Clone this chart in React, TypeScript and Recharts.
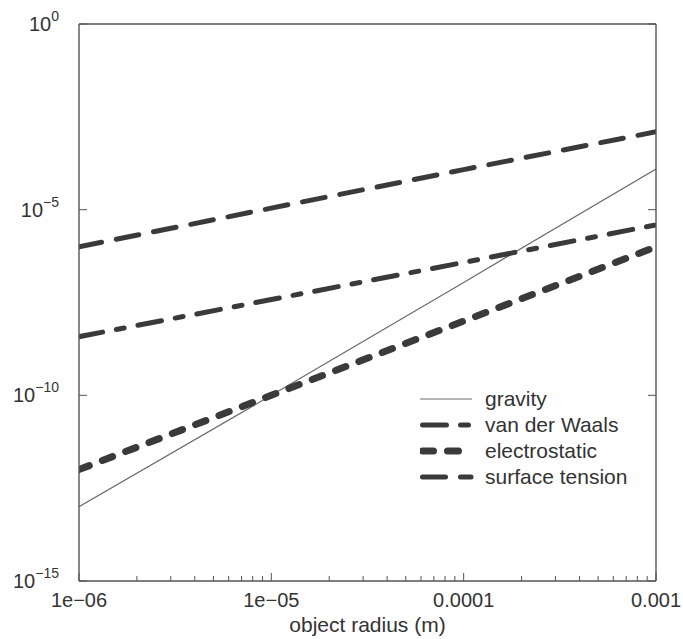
import { LineChart, Line, XAxis, YAxis, Legend } from "recharts";

const radius = [1e-6, 1e-5, 1e-4, 1e-3];
const gravity = [1e-13, 1e-10, 1.1e-7, 1.25e-4];
const vanDerWaals = [3.8e-9, 3.8e-8, 3.8e-7, 3.9e-6];
const electrostatic = [1e-12, 1e-10, 1e-8, 1e-6];
const surfaceTension = [1e-6, 1.1e-5, 1.2e-4, 1.25e-3];

const xMajor = [1e-6, 1e-5, 1e-4, 1e-3];
const xMajorLabels = ["1e\u221206", "1e\u221205", "0.0001", "0.001"];
const xMinor = [1e-6, 1e-5, 1e-4].flatMap((d) => [2, 3, 4, 5, 6, 7, 8, 9].map((m) => m * d));
const yMajor = [1, 1e-5, 1e-10, 1e-15];
const yExponents = ["0", "\u22125", "\u221210", "\u221215"];

const SERIES = [
  { key: "gravity", name: "gravity", color: "#6a6a6a", width: 1.2, dash: undefined },
  { key: "vdw", name: "van der Waals", color: "#3a3a3a", width: 5, dash: "24 14 8 14" },
  { key: "elec", name: "electrostatic", color: "#3a3a3a", width: 7, dash: "11 14" },
  { key: "surf", name: "surface tension", color: "#3a3a3a", width: 5, dash: "23 15" },
];

const data = radius.map((r, i) => ({
  r,
  gravity: gravity[i],
  vdw: vanDerWaals[i],
  elec: electrostatic[i],
  surf: surfaceTension[i],
}));

const FONT = "'Liberation Sans', Arial, Helvetica, sans-serif";
const INK = "#333";
const FRAME = "#555";

const majorIndex = (list: number[], v: number) =>
  list.findIndex((m) => Math.abs(m - v) / m < 1e-6);

function BottomTick(props: any) {
  const { x, y, payload } = props;
  const idx = majorIndex(xMajor, payload.value);
  const len = idx >= 0 ? 8 : 5;
  return (
    <g>
      <line x1={x} y1={y} x2={x} y2={y - len} stroke={FRAME} strokeWidth={1} />
      {idx >= 0 && (
        <text x={x} y={y + 26} textAnchor="middle" fontFamily={FONT} fontSize={20} fill={INK}>
          {xMajorLabels[idx]}
        </text>
      )}
    </g>
  );
}

function TopTick(props: any) {
  const { x, y, payload } = props;
  const len = majorIndex(xMajor, payload.value) >= 0 ? 8 : 5;
  return <line x1={x} y1={y} x2={x} y2={y + len} stroke={FRAME} strokeWidth={1} />;
}

function LeftTick(props: any) {
  const { x, y, payload } = props;
  const idx = majorIndex(yMajor, payload.value);
  return (
    <g>
      <line x1={x} y1={y} x2={x + 8} y2={y} stroke={FRAME} strokeWidth={1} />
      <text x={x - 20} y={y + 7} textAnchor="end" fontFamily={FONT} fill={INK}>
        <tspan fontSize={20}>10</tspan>
        <tspan fontSize={14} dy={-10}>{yExponents[idx]}</tspan>
      </text>
    </g>
  );
}

function RightTick(props: any) {
  const { x, y } = props;
  return <line x1={x} y1={y} x2={x - 8} y2={y} stroke={FRAME} strokeWidth={1} />;
}

function LegendBox() {
  return (
    <div style={{ fontFamily: FONT, fontSize: 21, color: INK }}>
      {SERIES.map((s) => (
        <div key={s.key} style={{ display: "flex", alignItems: "center", height: 26 }}>
          <svg width={56} height={26} style={{ display: "block" }}>
            <line
              x1={s.dash ? 2.5 : 0}
              y1={13}
              x2={s.dash ? 51 : 52}
              y2={13}
              stroke={s.color}
              strokeWidth={s.width}
              strokeDasharray={s.dash}
              strokeLinecap={s.dash ? "round" : "butt"}
            />
          </svg>
          <span style={{ marginLeft: 9, lineHeight: "26px" }}>{s.name}</span>
        </div>
      ))}
    </div>
  );
}

export default function App() {
  return (
    <div style={{ position: "absolute", left: 0, top: 0, background: "#fff" }}>
      <LineChart width={683} height={639} data={data} margin={{ top: 0, right: 0, bottom: 0, left: 0 }}>
        <XAxis
          dataKey="r"
          type="number"
          scale="log"
          domain={[1e-6, 1e-3]}
          allowDataOverflow
          ticks={[...xMajor, ...xMinor]}
          interval={0}
          height={58}
          tickSize={0}
          tickMargin={0}
          tickLine={false}
          tick={<BottomTick />}
          axisLine={{ stroke: FRAME, strokeWidth: 1.4 }}
          label={{
            value: "object radius (m)",
            position: "insideBottom",
            offset: 7,
            fontFamily: FONT,
            fontSize: 21,
            fill: INK,
          }}
        />
        <XAxis
          xAxisId="top"
          orientation="top"
          type="number"
          scale="log"
          domain={[1e-6, 1e-3]}
          allowDataOverflow
          ticks={[...xMajor, ...xMinor]}
          interval={0}
          height={24}
          tickSize={0}
          tickMargin={0}
          tickLine={false}
          tick={<TopTick />}
          axisLine={{ stroke: FRAME, strokeWidth: 1.4 }}
        />
        <YAxis
          type="number"
          scale="log"
          domain={[1e-15, 1]}
          allowDataOverflow
          ticks={yMajor}
          interval={0}
          width={79}
          tickSize={0}
          tickMargin={0}
          tickLine={false}
          tick={<LeftTick />}
          axisLine={{ stroke: FRAME, strokeWidth: 1.4 }}
        />
        <YAxis
          yAxisId="right"
          orientation="right"
          type="number"
          scale="log"
          domain={[1e-15, 1]}
          allowDataOverflow
          ticks={yMajor}
          interval={0}
          width={27}
          tickSize={0}
          tickMargin={0}
          tickLine={false}
          tick={<RightTick />}
          axisLine={{ stroke: FRAME, strokeWidth: 1.4 }}
        />
        {SERIES.map((s) => (
          <Line
            key={s.key}
            dataKey={s.key}
            name={s.name}
            type="linear"
            stroke={s.color}
            strokeWidth={s.width}
            strokeDasharray={s.dash}
            strokeLinecap={s.dash ? "round" : "butt"}
            dot={false}
            activeDot={false}
            isAnimationActive={false}
          />
        ))}
        <Legend
          layout="horizontal"
          verticalAlign="middle"
          align="center"
          content={<LegendBox />}
          wrapperStyle={{ left: 420, top: 386, width: "auto", height: "auto" }}
        />
      </LineChart>
    </div>
  );
}
